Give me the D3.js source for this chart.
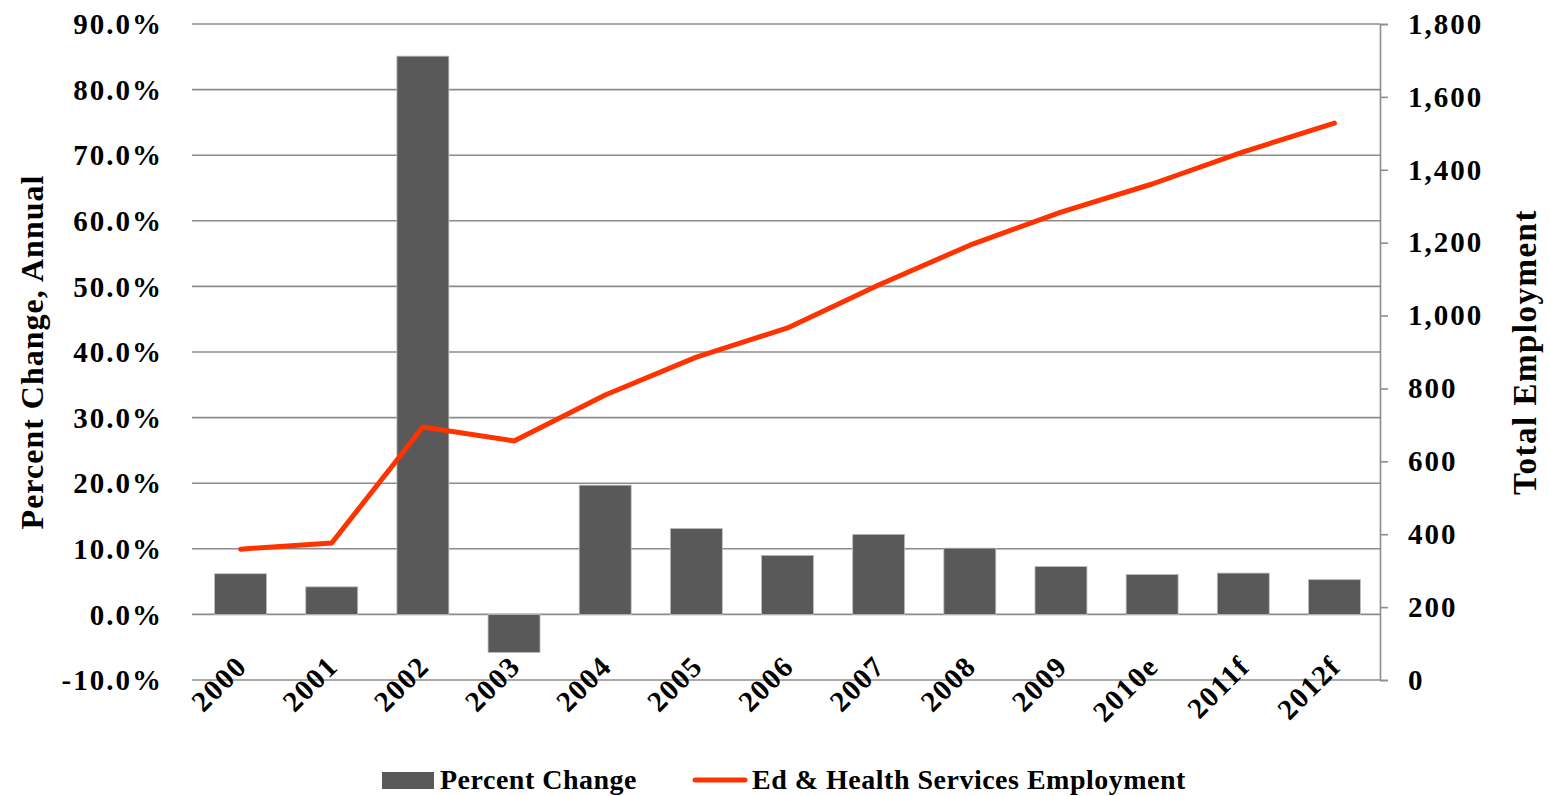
<!DOCTYPE html>
<html>
<head>
<meta charset="utf-8">
<script src="https://cdn.jsdelivr.net/npm/d3@7"></script>
<style>
  body { margin: 0; background: #fff; }
  svg text { font-family: "Liberation Serif", "DejaVu Serif", serif; font-weight: bold; fill: #000; }
</style>
</head>
<body>
<svg id="chart" width="1550" height="796"></svg>
<script>
/* ------------------ data ------------------ */

const years = ["2000", "2001", "2002", "2003", "2004", "2005", "2006",
  "2007", "2008", "2009", "2010e", "2011f", "2012f"];

// annual percent change (bars, left axis)
const pctChange = [6.2, 4.2, 85.1, -5.8, 19.7, 13.1, 9.0, 12.2, 10.1, 7.3, 6.1, 6.3, 5.3];

// total employment (line, right axis)
const employment = [359, 376, 694, 656, 782, 886, 966, 1084, 1193, 1284, 1361, 1449, 1528];

const leftTicks = [-10, 0, 10, 20, 30, 40, 50, 60, 70, 80, 90];
const rightTicks = [0, 200, 400, 600, 800, 1000, 1200, 1400, 1600, 1800];

/* ------------------ layout ------------------ */

const MARGIN = { top: 24, left: 195, right: 170, bottom: 116 };
const WIDTH = 1550;
const HEIGHT = 796;
const BAR_COLOR = "#595959";
const LINE_COLOR = "#ff3300";
const GRID_COLOR = "#8c8c8c";

const svg = d3.select("#chart");

const x = d3.scaleBand()
  .domain(years)
  .range([MARGIN.left, WIDTH - MARGIN.right])
  .paddingInner(0.43)
  .paddingOuter(0.215);

const yLeft = d3.scaleLinear()
  .domain([-10, 90])
  .range([HEIGHT - MARGIN.bottom, MARGIN.top]);

const yRight = d3.scaleLinear()
  .domain([0, 1800])
  .range([HEIGHT - MARGIN.bottom, MARGIN.top]);

/* ---- gridlines ---- */

svg.append("g")
  .selectAll("line")
  .data(leftTicks)
  .join("line")
  .attr("x1", MARGIN.left - 3)
  .attr("x2", WIDTH - MARGIN.right)
  .attr("y1", d => yLeft(d))
  .attr("y2", d => yLeft(d))
  .attr("stroke", GRID_COLOR)
  .attr("stroke-width", 1.6);

/* ---- bars ---- */

svg.append("g")
  .selectAll("rect")
  .data(years.map((y, i) => ({ year: y, v: pctChange[i] })))
  .join("rect")
  .attr("x", d => x(d.year))
  .attr("width", x.bandwidth())
  .attr("y", d => yLeft(Math.max(0, d.v)))
  .attr("height", d => Math.abs(yLeft(d.v) - yLeft(0)))
  .attr("fill", BAR_COLOR)
  .attr("stroke", "#bdbdbd")
  .attr("stroke-width", 0.8);

/* ---- left axis labels ---- */

svg.append("g")
  .selectAll("text")
  .data(leftTicks)
  .join("text")
  .attr("x", 163)
  .attr("y", d => yLeft(d))
  .attr("dy", "0.35em")
  .attr("text-anchor", "end")
  .style("font-size", "29px")
  .style("letter-spacing", "2px")
  .text(d => d.toFixed(1) + "%");

/* ---- right axis ---- */

const rightAxis = svg.append("g")
  .attr("transform", `translate(${WIDTH - MARGIN.right},0)`)
  .call(d3.axisRight(yRight).tickValues(rightTicks).tickSize(8).tickPadding(20)
    .tickFormat(d3.format(",")));

rightAxis.select(".domain").attr("stroke", GRID_COLOR).attr("stroke-width", 1.6);
rightAxis.selectAll(".tick line").attr("stroke", GRID_COLOR).attr("stroke-width", 1.6);
rightAxis.selectAll(".tick text")
  .style("font-size", "29px")
  .style("letter-spacing", "2px")
  .style("font-family", "'Liberation Serif', serif")
  .style("font-weight", "bold")
  .attr("fill", "#000");

/* ---- category labels ---- */

svg.append("g")
  .selectAll("text")
  .data(years)
  .join("text")
  .attr("text-anchor", "end")
  .attr("transform", d => `translate(${x(d) + x.bandwidth() / 2 + 8},${668}) rotate(-45)`)
  .style("font-size", "29px")
  .style("letter-spacing", "1.5px")
  .text(d => d);

/* ---- line ---- */

const line = d3.line()
  .x((d, i) => x(years[i]) + x.bandwidth() / 2)
  .y(d => yRight(d));

svg.append("path")
  .datum(employment)
  .attr("d", line)
  .attr("fill", "none")
  .attr("stroke", LINE_COLOR)
  .attr("stroke-width", 5)
  .attr("stroke-linecap", "round")
  .attr("stroke-linejoin", "round");

/* ---- axis titles ---- */

svg.append("text")
  .attr("transform", `translate(43,352) rotate(-90)`)
  .attr("text-anchor", "middle")
  .style("font-size", "32px")
  .style("letter-spacing", "1px")
  .text("Percent Change, Annual");

svg.append("text")
  .attr("transform", `translate(1536,352) rotate(-90)`)
  .attr("text-anchor", "middle")
  .style("font-size", "33px")
  .style("letter-spacing", "1.5px")
  .text("Total Employment");

/* ---- legend ---- */

const legend = svg.append("g");

legend.append("rect")
  .attr("x", 382).attr("y", 772)
  .attr("width", 52).attr("height", 17)
  .attr("fill", BAR_COLOR);

legend.append("text")
  .attr("x", 440).attr("y", 789)
  .style("font-size", "28px")
  .style("letter-spacing", "0.5px")
  .text("Percent Change");

legend.append("line")
  .attr("x1", 695).attr("x2", 745)
  .attr("y1", 780).attr("y2", 780)
  .attr("stroke", LINE_COLOR)
  .attr("stroke-width", 5)
  .attr("stroke-linecap", "round");

legend.append("text")
  .attr("x", 752).attr("y", 789)
  .style("font-size", "28px")
  .style("letter-spacing", "0.5px")
  .text("Ed & Health Services Employment");
</script>
</body>
</html>
